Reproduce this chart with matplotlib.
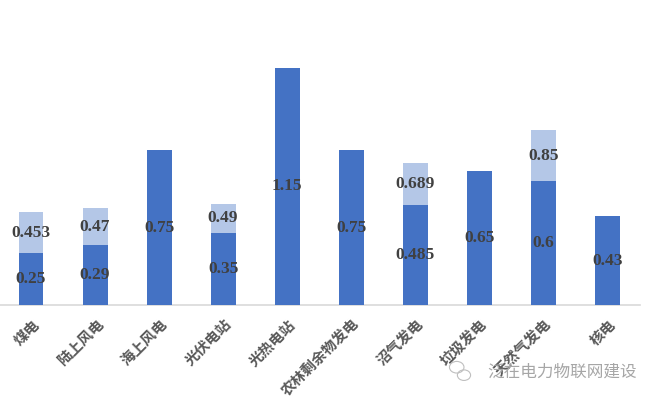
import matplotlib.pyplot as plt
from matplotlib.patches import Ellipse

plt.rcParams['font.family'] = ['Noto Sans CJK SC', 'DejaVu Sans']

categories = ['煤电', '陆上风电', '海上风电', '光伏电站', '光热电站',
              '农林剩余物发电', '沼气发电', '垃圾发电', '天然气发电', '核电']
low_values = [0.25, 0.29, 0.75, 0.35, 1.15, 0.75, 0.485, 0.65, 0.6, 0.43]
high_values = [0.453, 0.47, None, 0.49, None, None, 0.689, None, 0.85, None]

DARK = '#4472C4'
LIGHT = '#B4C7E7'
LABEL = '#404040'

fig = plt.figure(figsize=(6.6, 3.97), dpi=100)
ax = fig.add_axes([0, 0.232, 0.97, 0.768])

x = list(range(len(categories)))
hi = [h if h is not None else 0 for h in high_values]
ax.bar(x, hi, width=0.39, color=LIGHT, zorder=2)
ax.bar(x, low_values, width=0.39, color=DARK, zorder=3)

num_font = dict(family='Liberation Serif', fontweight='bold', fontsize=12.5,
                color=LABEL, ha='center', va='center', zorder=4)
for i, (lo, h) in enumerate(zip(low_values, high_values)):
    ax.text(i, lo / 2, f'{lo:g}', **num_font)
    if h is not None:
        ax.text(i, (lo + h) / 2, f'{h:g}', **num_font)

ax.set_xlim(-31 / 64, 609 / 64)
ax.set_ylim(0, 305 / 206)
for s in ['top', 'right', 'left']:
    ax.spines[s].set_visible(False)
ax.spines['bottom'].set_color('#D9D9D9')
ax.spines['bottom'].set_linewidth(1.2)
ax.set_yticks([])
ax.set_xticks(x)
ax.set_xticklabels(categories, rotation=45, ha='right', rotation_mode='anchor',
                   fontsize=10.5, fontweight='bold', color='#595959')
ax.tick_params(axis='x', length=0, pad=8)

# watermark
for cx, cy, w in [(0.692, 0.075, 0.022), (0.703, 0.055, 0.020)]:
    fig.patches.append(Ellipse((cx, cy), w, w * 660 / 397 * 0.8,
                               transform=fig.transFigure, fill=False,
                               edgecolor='#BFBFBF', linewidth=0.8))
fig.text(0.738, 0.063, '泛在电力物联网建设', fontsize=12, color='#A6A6A6',
         ha='left', va='center')

fig.savefig('out.png', dpi=100)
